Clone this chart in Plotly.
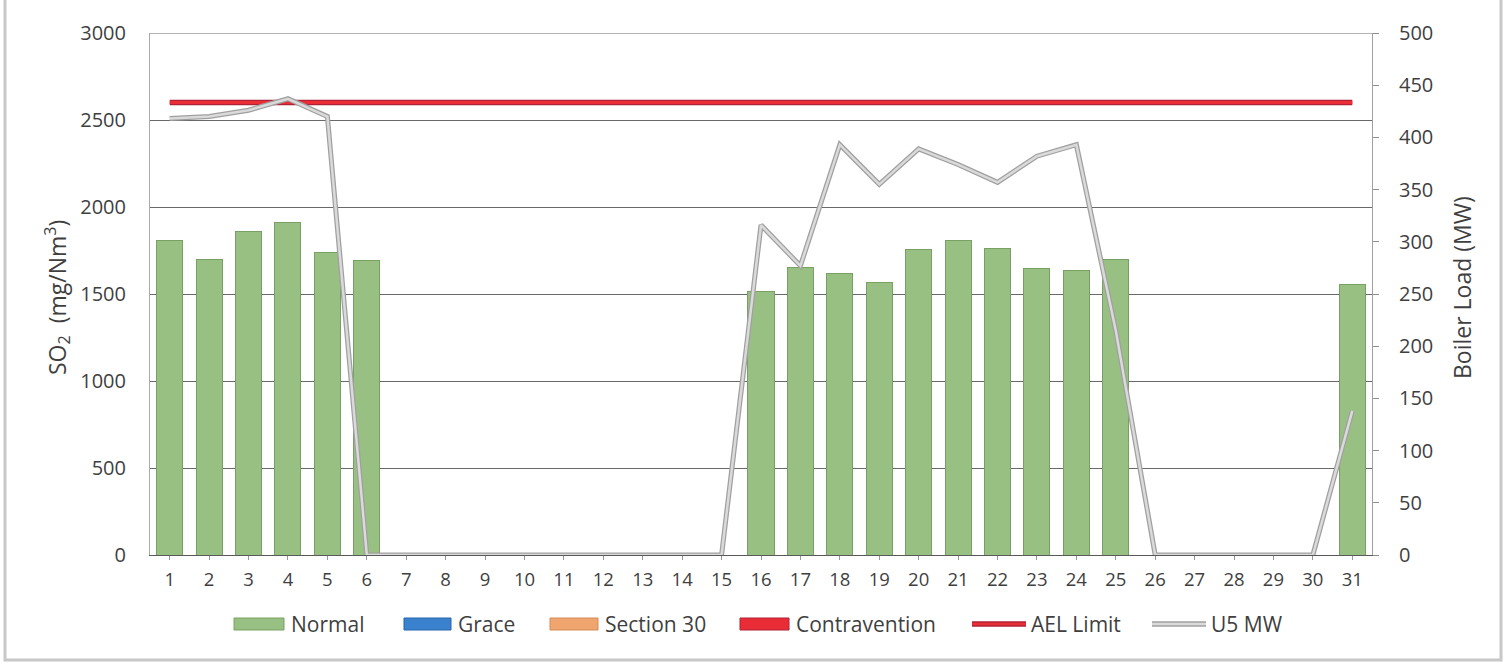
import plotly.graph_objects as go

# ---- data -------------------------------------------------------------
days = list(range(1, 32))

so2_normal = [1810, 1700, 1860, 1910, 1740, 1690,
              None, None, None, None, None, None, None, None, None,
              1515, 1650, 1615, 1565, 1757, 1805, 1759, 1644, 1634, 1699,
              None, None, None, None, None,
              1552]
so2_grace = [None] * 31
so2_section30 = [None] * 31
so2_contravention = [None] * 31

AEL_LIMIT = 2600

u5_mw = [418, 420, 426, 437, 420, 0, 0, 0, 0, 0, 0, 0, 0, 0, 0,
         316, 277, 393, 355, 389, 374, 357, 382, 393, 215,
         0, 0, 0, 0, 0, 138]

# ---- styling ----------------------------------------------------------
FONT = "Open Sans"
TXT = "#3f3f3f"
GREEN = "rgb(153,192,131)"
GREEN_EDGE = "rgb(120,160,100)"
BLUE = "rgb(58,130,205)"
ORANGE = "rgb(240,165,110)"
RED = "rgb(234,44,54)"
RED_EDGE = "rgb(175,35,55)"
GREY_LINE = "rgb(218,218,218)"
GREY_EDGE = "rgb(160,160,160)"
GRID = "rgb(105,105,105)"

W, H = 1508, 666
PL, PR, PT, PB = 150, 1372, 33, 555  # plot area in pixels


def px(x):
    return (x - PL) / (PR - PL)


def py(y):
    return (PB - y) / (PB - PT)


fig = go.Figure()

fig.add_trace(go.Bar(x=days, y=so2_normal, name="Normal", width=0.66,
                     marker=dict(color=GREEN, line=dict(color=GREEN_EDGE, width=1)),
                     showlegend=False))
fig.add_trace(go.Bar(x=days, y=so2_grace, name="Grace", width=0.66,
                     marker=dict(color=BLUE), showlegend=False))
fig.add_trace(go.Bar(x=days, y=so2_section30, name="Section 30", width=0.66,
                     marker=dict(color=ORANGE), showlegend=False))
fig.add_trace(go.Bar(x=days, y=so2_contravention, name="Contravention", width=0.66,
                     marker=dict(color=RED), showlegend=False))

ael = [AEL_LIMIT] * len(days)
fig.add_trace(go.Scatter(x=days, y=ael, mode="lines", hoverinfo="skip",
                         line=dict(color=RED_EDGE, width=5.5), showlegend=False))
fig.add_trace(go.Scatter(x=days, y=ael, mode="lines", name="AEL Limit",
                         line=dict(color=RED, width=3), showlegend=False))

fig.add_trace(go.Scatter(x=days, y=u5_mw, mode="lines", yaxis="y2", hoverinfo="skip",
                         line=dict(color=GREY_EDGE, width=5), showlegend=False))
fig.add_trace(go.Scatter(x=days, y=u5_mw, mode="lines", yaxis="y2", name="U5 MW",
                         line=dict(color=GREY_LINE, width=2.5), showlegend=False))

# ---- custom legend ----------------------------------------------------
shapes = []
annotations = []
LEG_Y = 624
LEG_FONT = dict(family=FONT, size=21, color=TXT)
legend_boxes = [("Normal", GREEN, GREEN_EDGE, 234, 284),
                ("Grace", BLUE, "rgb(40,100,170)", 404, 451),
                ("Section 30", ORANGE, "rgb(210,140,90)", 550, 598),
                ("Contravention", RED, RED_EDGE, 740, 789)]
for label, fill, edge, x0, x1 in legend_boxes:
    shapes.append(dict(type="rect", xref="paper", yref="paper",
                       x0=px(x0), x1=px(x1), y0=py(LEG_Y + 6), y1=py(LEG_Y - 6),
                       fillcolor=fill, line=dict(color=edge, width=1)))
    annotations.append(dict(text=label, xref="paper", yref="paper",
                            x=px(x1 + 5), y=py(LEG_Y), xanchor="left", yanchor="middle",
                            showarrow=False, font=LEG_FONT))

legend_lines = [("AEL Limit", RED, RED_EDGE, 972, 1026),
                ("U5 MW", GREY_LINE, GREY_EDGE, 1152, 1206)]
for label, col, edge, x0, x1 in legend_lines:
    shapes.append(dict(type="line", xref="paper", yref="paper",
                       x0=px(x0), x1=px(x1), y0=py(LEG_Y), y1=py(LEG_Y),
                       line=dict(color=edge, width=5.5)))
    shapes.append(dict(type="line", xref="paper", yref="paper",
                       x0=px(x0), x1=px(x1), y0=py(LEG_Y), y1=py(LEG_Y),
                       line=dict(color=col, width=2.5)))
    annotations.append(dict(text=label, xref="paper", yref="paper",
                            x=px(x1 + 3), y=py(LEG_Y), xanchor="left", yanchor="middle",
                            showarrow=False, font=LEG_FONT))

# axis titles
annotations.append(dict(text="SO<sub>2</sub>  (mg/Nm<sup>3</sup>)", xref="paper", yref="paper",
                        x=px(57), y=py(297), textangle=-90, showarrow=False,
                        xanchor="center", yanchor="middle",
                        font=dict(family=FONT, size=23, color=TXT)))
annotations.append(dict(text="Boiler Load (MW)", xref="paper", yref="paper",
                        x=px(1462), y=py(288), textangle=-90, showarrow=False,
                        xanchor="center", yanchor="middle",
                        font=dict(family=FONT, size=23, color=TXT)))

# top gridline at the 3000 mark
shapes.append(dict(type="line", xref="paper", yref="y", x0=0, x1=1, y0=3000, y1=3000,
                   layer="below", line=dict(color=GRID, width=1)))

# outer frame of the chart
shapes.append(dict(type="rect", xref="paper", yref="paper", layer="below",
                   x0=px(5), x1=px(1501), y0=py(660), y1=py(-10),
                   line=dict(color="rgb(200,200,200)", width=3),
                   fillcolor="rgba(0,0,0,0)"))

fig.update_layout(
    width=W, height=H,
    margin=dict(l=PL, r=W - PR, t=PT, b=H - PB, pad=0),
    paper_bgcolor="white", plot_bgcolor="white",
    barmode="stack", bargap=0.34,
    font=dict(family=FONT, color=TXT),
    showlegend=False,
    shapes=shapes, annotations=annotations,
    xaxis=dict(range=[0.5, 31.5], tickmode="array", tickvals=days,
               ticktext=[str(d) for d in days],
               showgrid=False, zeroline=False,
               showline=True, linecolor="rgb(90,90,90)", linewidth=1,
               ticks="outside", ticklen=4, tickcolor="rgb(150,150,150)",
               tickfont=dict(family=FONT, size=18.5, color=TXT),
               ticklabelstandoff=4),
    yaxis=dict(range=[0, 3000], tickmode="linear", tick0=0, dtick=500,
               showgrid=True, gridcolor=GRID, gridwidth=1,
               zeroline=False, showline=True, linecolor="rgb(170,170,170)",
               linewidth=1, ticks="",
               tickfont=dict(family=FONT, size=20, color=TXT),
               ticklabelstandoff=19),
    yaxis2=dict(range=[0, 500], tickmode="linear", tick0=0, dtick=50,
                overlaying="y", side="right", showgrid=False, zeroline=False,
                showline=True, linecolor="rgb(160,160,160)", linewidth=1,
                ticks="outside", ticklen=6, tickcolor="rgb(140,140,140)",
                tickfont=dict(family=FONT, size=20, color=TXT),
                ticklabelstandoff=16),
)

fig.write_html("out.html")
